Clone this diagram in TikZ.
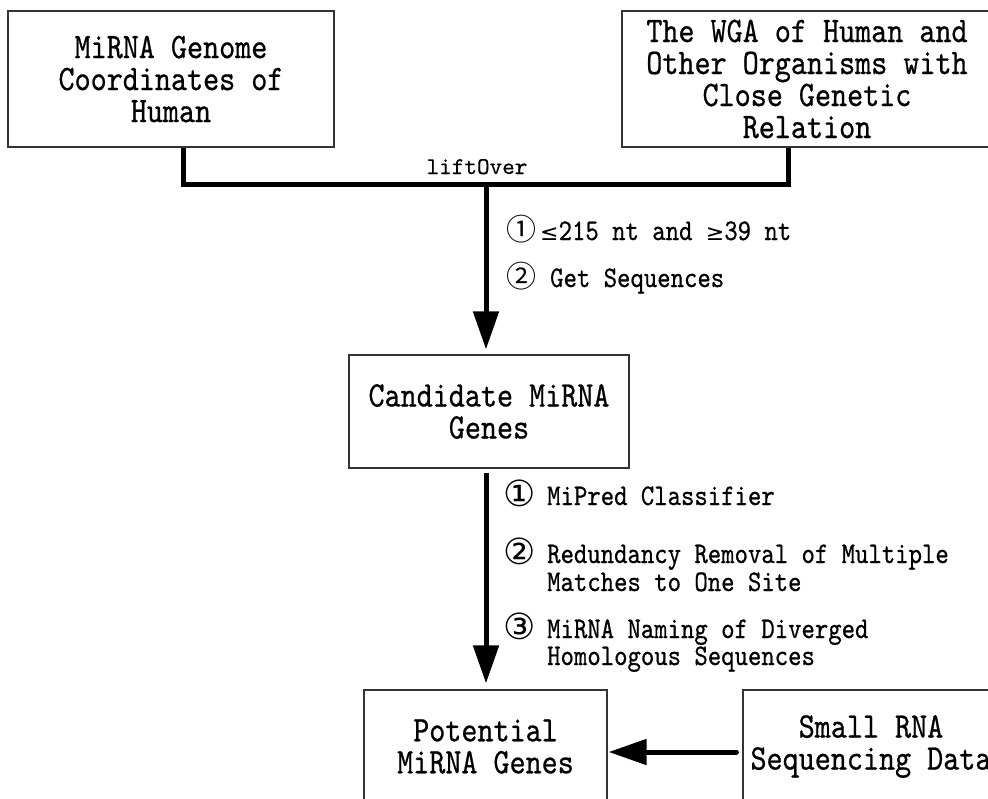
\documentclass[tikz,border=0pt]{standalone}
\usepackage{fontspec}
\usetikzlibrary{arrows.meta,calc}
\newfontfamily\boxf{lmmono10-regular.otf}[FakeStretch=0.85,FakeBold=0.6]
\newfontfamily\liftf{lmmono10-regular.otf}[FakeBold=0.5]
\newfontfamily\symf{DejaVu Sans}
\newfontfamily\cjkf{Noto Sans CJK SC}
\begin{document}
\begin{tikzpicture}[x=1pt,y=-1pt,
  box/.style={draw=black!80, line width=1.2pt, rectangle, inner sep=0pt, align=center,
    font=\boxf\fontsize{36}{32}\selectfont},
  conn/.style={line width=5pt, line join=miter},
  arr/.style={line width=5pt, -{Triangle[length=38pt,width=25pt]}},
  lab/.style={anchor=base west, inner sep=0pt, font=\boxf\fontsize{30}{28}\selectfont},
  num/.style={anchor=base west, inner sep=0pt, font=\symf\fontsize{36}{36}\selectfont},
  thinnum/.style={anchor=base west, inner sep=0pt, font=\cjkf\fontsize{30}{30}\selectfont}]
\useasboundingbox (0,0) rectangle (988,798);
\clip (0,0) rectangle (988,798);
% boxes
\node[box, minimum width=326pt, minimum height=136pt] (b1) at (171,79) {MiRNA Genome\\Coordinates of\\Human};
\node[box, minimum width=370pt, minimum height=136pt] (b2) at (807,79) {The WGA of Human and\\Other Organisms with\\Close Genetic\\Relation};
\node[box, minimum width=280pt, minimum height=113pt] (cand) at (489,411.5) {Candidate MiRNA\\Genes};
\node[box, minimum width=243pt, minimum height=113pt] (pot) at (485.5,746.5) {Potential\\MiRNA Genes};
\node[box, minimum width=256pt, minimum height=113pt] (srna) at (871,746.5) {Small RNA\\Sequencing Data};
% connectors
\coordinate (mid) at (486,184);
\coordinate (hy) at (0,752);
\draw[conn] ([xshift=12pt]b1.south) |- (mid) -| ([xshift=-19pt]b2.south);
\node[anchor=base, inner sep=0pt, font=\liftf\fontsize{24}{24}\selectfont] (lift) at (477,174) {liftOver};
\draw[arr, shorten >=5pt] (mid) -- (mid |- cand.north);
\draw[arr, shorten <=4pt, shorten >=6pt] (cand.south -| mid) -- (pot.north -| mid);
\draw[arr, line cap=round, shorten <=6pt, shorten >=1pt] (srna.west |- hy) -- (pot.east |- hy);
% labels of the first arrow
\node[thinnum] (n11) at (506,240) {①};
\node[lab] (t11) at (540,240) {{\symf\fontsize{22}{22}\selectfont ≤}215 nt and {\symf\fontsize{22}{22}\selectfont ≥}39 nt};
\node[thinnum] (n12) at (506,287) {②};
\node[lab] (t12) at (550,287) {Get Sequences};
% labels of the second arrow
\node[num] (n21) at (503,506) {①};
\node[lab] (t21) at (547,505) {MiPred Classifier};
\node[num] (n22) at (503,564) {②};
\node[lab] (t22a) at (547,563) {Redundancy Removal of Multiple};
\node[lab] (t22b) at (547,591) {Matches to One Site};
\node[num] (n23) at (503,639) {③};
\node[lab] (t23a) at (547,638) {MiRNA Naming of Diverged};
\node[lab] (t23b) at (547,665) {Homologous Sequences};
\end{tikzpicture}
\end{document}
